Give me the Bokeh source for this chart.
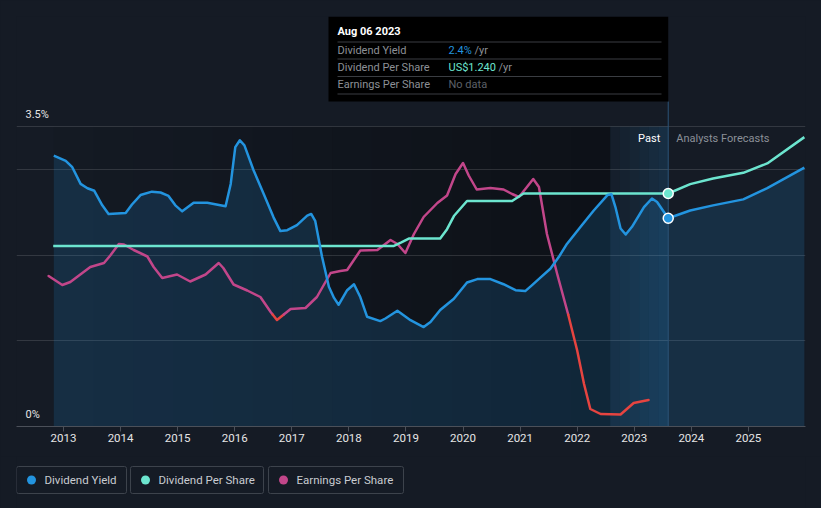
from bokeh.plotting import figure
from bokeh.layouts import column
from bokeh.models import Range1d, FixedTicker, BoxAnnotation, Label
from bokeh.core.properties import value
from bokeh.embed import file_html
from bokeh.resources import INLINE

# ---------------- data ----------------
tick_years = [2013, 2014, 2015, 2016, 2017, 2018, 2019, 2020, 2021, 2022, 2023, 2024, 2025]
tick_labels = ["2013", "2014", "2015", "2016", "2017", "2018", "2019", "2020", "2021", "2022", "2023", "2024", "2025"]

yield_years = [2012.83, 2013.04, 2013.15, 2013.30, 2013.42, 2013.54, 2013.68, 2013.79, 2014.09, 2014.20,
               2014.35, 2014.55, 2014.70, 2014.84, 2014.96, 2015.08, 2015.28, 2015.52, 2015.84, 2015.93,
               2016.01, 2016.09, 2016.17, 2016.33, 2016.51, 2016.68, 2016.80, 2016.92, 2017.09, 2017.27,
               2017.34, 2017.41, 2017.53, 2017.65, 2017.74, 2017.82, 2017.97, 2018.09, 2018.20, 2018.32,
               2018.55, 2018.64, 2018.85, 2019.08, 2019.31, 2019.43, 2019.60, 2019.84, 2020.07, 2020.25,
               2020.48, 2020.71, 2020.92, 2021.09, 2021.21, 2021.36, 2021.53, 2021.68, 2021.82, 2022.06,
               2022.29, 2022.53, 2022.60, 2022.67, 2022.76, 2022.85, 2022.96, 2023.17, 2023.31, 2023.40,
               2023.595]
yield_pct = [3.16, 3.10, 3.03, 2.83, 2.78, 2.75, 2.58, 2.48, 2.49, 2.59,
             2.70, 2.74, 2.73, 2.69, 2.58, 2.51, 2.61, 2.61, 2.57, 2.83,
             3.26, 3.34, 3.28, 2.99, 2.71, 2.44, 2.28, 2.29, 2.35, 2.46,
             2.48, 2.40, 1.98, 1.63, 1.50, 1.42, 1.59, 1.66, 1.51, 1.28,
             1.23, 1.26, 1.35, 1.24, 1.16, 1.22, 1.36, 1.49, 1.68, 1.72,
             1.72, 1.66, 1.59, 1.58, 1.65, 1.74, 1.84, 1.98, 2.13, 2.33,
             2.52, 2.70, 2.71, 2.56, 2.31, 2.24, 2.33, 2.56, 2.66, 2.62,
             2.43]

yield_fc_years = [2023.595, 2023.98, 2024.38, 2024.91, 2025.33, 2025.98]
yield_fc_pct = [2.43, 2.52, 2.58, 2.65, 2.78, 3.02]

dps_years = [2012.82, 2018.78, 2018.92, 2019.05, 2019.60, 2019.72, 2019.84, 2020.07, 2020.86, 2020.96, 2021.06, 2023.595]
dps_usd = [0.96, 0.96, 0.98, 1.00, 1.00, 1.05, 1.12, 1.20, 1.20, 1.22, 1.24, 1.24]

dps_fc_years = [2023.595, 2023.98, 2024.38, 2024.91, 2025.33, 2025.98]
dps_fc_usd = [1.24, 1.29, 1.32, 1.35, 1.40, 1.54]

eps_years = [2012.74, 2012.98, 2013.12, 2013.47, 2013.71, 2013.82, 2013.97, 2014.06, 2014.23, 2014.47,
             2014.58, 2014.73, 2014.99, 2015.22, 2015.49, 2015.72, 2015.80, 2015.98, 2016.22, 2016.45,
             2016.63, 2016.74, 2016.98, 2017.24, 2017.44, 2017.68, 2017.85, 2017.97, 2018.20, 2018.50,
             2018.73, 2018.85, 2018.99, 2019.14, 2019.31, 2019.55, 2019.72, 2019.87, 2020.00, 2020.10,
             2020.24, 2020.48, 2020.71, 2020.86, 2020.98, 2021.12, 2021.23, 2021.33, 2021.47, 2021.65,
             2021.84, 2022.00, 2022.12, 2022.23, 2022.41, 2022.76, 2022.99, 2023.25]
eps_usd = [0.77, 0.59, 0.65, 0.95, 1.03, 1.18, 1.41, 1.40, 1.29, 1.16,
           0.95, 0.73, 0.80, 0.66, 0.80, 1.03, 0.93, 0.60, 0.48, 0.35,
           0.05, -0.11, 0.11, 0.13, 0.35, 0.83, 0.87, 0.89, 1.28, 1.29,
           1.49, 1.41, 1.23, 1.61, 1.95, 2.23, 2.38, 2.81, 3.03, 2.78,
           2.50, 2.53, 2.50, 2.41, 2.35, 2.55, 2.71, 2.55, 1.61, 0.81,
           0.01, -0.72, -1.39, -1.89, -1.99, -2.00, -1.77, -1.71]

tooltip_date = 2023.595
tooltip_title = "Aug 06 2023"
tooltip_rows = ["Dividend Yield", "Dividend Per Share", "Earnings Per Share"]
tooltip_values = ["2.4%", "US$1.240", "No data"]
legend_names = ["Dividend Yield", "Dividend Per Share", "Earnings Per Share"]

# ---------------- style ----------------
BG = "#151b25"
BLUE = "#2394df"
TEAL = "#6ce5cf"
MAGENTA = "#c2468a"
RED = "#e64440"
FONT = "Roboto"

W = 821
H_MAIN = 456
H_LEG = 52
BL, BR, BT = 16, 16, 16
BB = H_MAIN - 426
frame_w = W - BL - BR
frame_h = 426 - BT
px_per_pct = 300 / 3.5
x0, x1 = 2012.177, 2026.0
px_per_year = frame_w / (x1 - x0)
y_top = frame_h / px_per_pct

def ypx(page_y):
    # page pixel (from top) -> percent axis value
    return (426 - page_y) / px_per_pct

def xpx(page_x):
    return x0 + (page_x - BL) / px_per_year

p = figure(width=W, height=H_MAIN, output_backend="svg", toolbar_location=None,
           x_range=Range1d(x0, x1), y_range=Range1d(0, y_top),
           min_border_left=BL, min_border_right=BR, min_border_top=BT, min_border_bottom=BB,
           background_fill_color=BG, border_fill_color=BG, outline_line_color=None)

p.extra_y_ranges = {
    "dps": Range1d(0, frame_h / (233 / 1.24)),
    "eps": Range1d(-112 / 50, -112 / 50 + frame_h / 50),
}

# axes / grid
p.yaxis.visible = False
p.xgrid.visible = False
p.ygrid.ticker = FixedTicker(ticks=[0, 1, 2, 3, 3.5])
p.ygrid.grid_line_color = "#ffffff"
p.ygrid.grid_line_alpha = 0.13
ax = p.xaxis[0]
ax.ticker = FixedTicker(ticks=tick_years)
ax.major_label_overrides = {t: l for t, l in zip(tick_years, tick_labels)}
ax.axis_line_color = "#4b5059"
ax.major_tick_line_color = "#4b5059"
ax.major_tick_out = 5
ax.major_tick_in = 0
ax.minor_tick_line_color = None
ax.major_label_text_color = "#e6e6e6"
ax.major_label_text_font = FONT
ax.major_label_text_font_size = "11.5px"
ax.major_label_standoff = 2

# past gradient (darker to the right)
past_start = yield_years[0]
hl_start = 2022.58
n = 14
for i in range(n):
    l = past_start + (hl_start - past_start) * i / n
    r = past_start + (hl_start - past_start) * (i + 1) / n
    p.add_layout(BoxAnnotation(left=l, right=r, bottom=0, top=3.5, fill_color="#000000",
                               fill_alpha=0.03 + 0.32 * i / (n - 1), line_color=None, level="image"))
# highlight last year of past
m = 6
for i in range(m):
    l = hl_start + (tooltip_date - hl_start) * i / m
    r = hl_start + (tooltip_date - hl_start) * (i + 1) / m
    p.add_layout(BoxAnnotation(left=l, right=r, bottom=0, top=3.5, fill_color=BLUE,
                               fill_alpha=0.04 + 0.12 * i / (m - 1), line_color=None, level="image"))

# area under dividend yield
all_years = yield_years + yield_fc_years[1:]
all_pct = yield_pct + yield_fc_pct[1:]
p.varea(x=all_years, y1=[0] * len(all_years), y2=all_pct, fill_color=BLUE, fill_alpha=0.17)

# tooltip vertical line
p.segment(x0=[tooltip_date], y0=[0], x1=[tooltip_date], y1=[ypx(101)], line_color="#2b5478", line_width=1)

# EPS split into positive (magenta) and negative (red) parts
def split_segments(xs, ys, thr=0.0):
    segs = []
    cx, cy = [xs[0]], [ys[0]]
    neg = ys[0] < thr
    for i in range(1, len(xs)):
        nneg = ys[i] < thr
        if nneg != neg:
            t = (thr - ys[i - 1]) / (ys[i] - ys[i - 1])
            xc = xs[i - 1] + t * (xs[i] - xs[i - 1])
            cx.append(xc); cy.append(thr)
            segs.append((cx, cy, neg))
            cx, cy, neg = [xc], [thr], nneg
        cx.append(xs[i]); cy.append(ys[i])
    segs.append((cx, cy, neg))
    return segs

for sx, sy, sneg in split_segments(eps_years, eps_usd):
    p.line(sx, sy, line_color=RED if sneg else MAGENTA, line_width=2.5, y_range_name="eps",
           line_join="round", line_cap="round")

# DPS
p.line(dps_years, dps_usd, line_color=TEAL, line_width=2.5, y_range_name="dps", line_join="round")
p.line(dps_fc_years, dps_fc_usd, line_color=TEAL, line_width=2.5, y_range_name="dps", line_join="round")
# yield
p.line(yield_years, yield_pct, line_color=BLUE, line_width=2.5, line_join="round")
p.line(yield_fc_years, yield_fc_pct, line_color=BLUE, line_width=2.5, line_join="round")

# markers at tooltip date
p.scatter([dps_years[-1]], [dps_usd[-1]], size=10, fill_color=TEAL, line_color="#ffffff", line_width=1.5,
          y_range_name="dps")
p.scatter([yield_years[-1]], [yield_pct[-1]], size=10, fill_color=BLUE, line_color="#ffffff", line_width=1.5)

# y labels
p.add_layout(Label(x=x0, x_offset=9, y=3.5 + 12 / px_per_pct, text="3.5%", text_font=FONT,
                   text_font_size="11px", text_color="#e6e6e6", text_baseline="middle"))
p.add_layout(Label(x=x0, x_offset=9, y=12 / px_per_pct, text="0%", text_font=FONT,
                   text_font_size="11px", text_color="#e6e6e6", text_baseline="middle"))

# Past / Analysts Forecasts
p.add_layout(Label(x=tooltip_date, x_offset=-8, y=ypx(138), text="Past", text_font=FONT,
                   text_font_size="11px", text_color="#ffffff", text_align="right", text_baseline="middle"))
p.add_layout(Label(x=tooltip_date, x_offset=8, y=ypx(138), text="Analysts Forecasts", text_font=FONT,
                   text_font_size="11px", text_color="#8b9098", text_align="left", text_baseline="middle"))

# tooltip box
tt_left = xpx(328)
p.add_layout(BoxAnnotation(left=tt_left, right=tooltip_date, bottom=ypx(101), top=y_top,
                           fill_color="#000000", fill_alpha=1.0, line_color=None, level="annotation"))
p.add_layout(Label(x=tt_left, x_offset=9, y=ypx(31), text=tooltip_title, text_font=FONT,
                   text_font_size="11px", text_font_style="bold", text_color="#ffffff", text_baseline="middle"))
sep_y = [ypx(41.5), ypx(58.5), ypx(76), ypx(93.5)]
row_y = [ypx(49.5), ypx(66.5), ypx(84)]
value_colors = [BLUE, TEAL, "#5d6168"]
for sy in sep_y:
    p.add_layout(BoxAnnotation(left=xpx(337), right=xpx(661), bottom=sy - 0.5 / px_per_pct,
                               top=sy + 0.5 / px_per_pct, fill_color="#3a3d42", fill_alpha=1,
                               line_color=None, level="annotation"))
for i, (name, val) in enumerate(zip(tooltip_rows, tooltip_values)):
    p.add_layout(Label(x=tt_left, x_offset=9, y=row_y[i], text=name, text_font=FONT,
                       text_font_size="11px", text_color="#8d9096", text_baseline="middle"))
    p.add_layout(Label(x=tt_left, x_offset=120, y=row_y[i], text=val, text_font=FONT,
                       text_font_size="11px", text_color=value_colors[i], text_baseline="middle"))
p.add_layout(Label(x=tt_left, x_offset=146, y=row_y[0], text="/yr", text_font=FONT,
                   text_font_size="11px", text_color="#8d9096", text_baseline="middle"))
p.add_layout(Label(x=tt_left, x_offset=170, y=row_y[1], text="/yr", text_font=FONT,
                   text_font_size="11px", text_color="#8d9096", text_baseline="middle"))

# ---------------- legend (separate strip, page pixel coordinates) ----------------
# the column layout aligns this strip's frame with the main frame (page x BL .. W-BR)
leg = figure(width=W, height=H_LEG, output_backend="svg", toolbar_location=None,
             x_range=Range1d(BL, W - BR), y_range=Range1d(H_MAIN + H_LEG, H_MAIN),
             min_border_left=BL, min_border_right=BR, min_border_top=0, min_border_bottom=0,
             background_fill_color=BG, border_fill_color=BG, outline_line_color=None)
leg.xaxis.visible = False
leg.yaxis.visible = False
leg.grid.visible = False
box_left = [16, 130, 268]
box_right = [126, 263, 403]
dot_colors = [BLUE, TEAL, MAGENTA]
leg.quad(left=box_left, right=box_right, top=[466] * 3, bottom=[493] * 3,
         fill_color=BG, line_color="#3d434c", line_width=1, border_radius=2)
leg.scatter(x=[b + 15 for b in box_left], y=[479.5] * 3, size=9, fill_color=dot_colors, line_color=None)
leg.text(x=[b + 28 for b in box_left], y=[479.5] * 3, text=legend_names, text_font=value(FONT),
         text_font_size="11.5px", text_color="#c9ccd1", text_baseline="middle", text_align="left")

layout = column(p, leg, spacing=0)
html = file_html(layout, INLINE)
html = html.replace("</head>", "<style>html, body { background: %s !important; }</style></head>" % BG, 1)
open("out.html", "w").write(html)
